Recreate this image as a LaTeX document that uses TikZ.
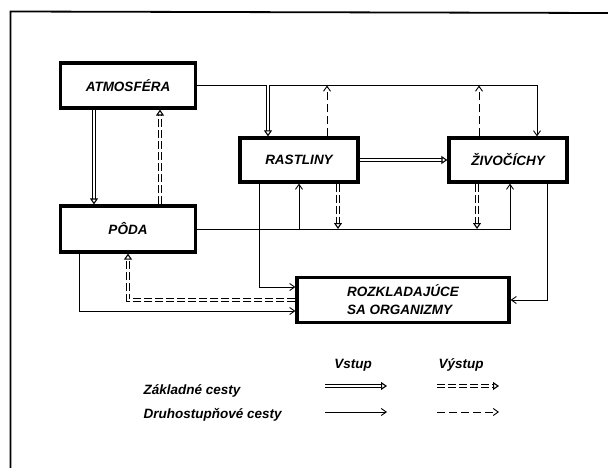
\documentclass[tikz,border=0pt]{standalone}
\usepackage{fontspec}
\setmainfont{Liberation Sans}
\usepackage{tikz}
\usetikzlibrary{arrows.meta, calc}

\begin{document}
\begin{tikzpicture}[x=1pt, y=-1pt,
    box/.style={draw, line width=3.2pt, inner sep=0pt, font=\fontsize{13.5}{18}\selectfont\bfseries\itshape},
    sec/.style={line width=0.9pt, -{Straight Barb[length=5pt, width=7pt]}},
    secout/.style={sec, dash pattern=on 8pt off 4pt},
    main/.style={double, double distance=2pt, line width=1.1pt, -{Triangle[open, length=6pt, width=8pt]}},
    mainout/.style={main, dash pattern=on 8pt off 3pt},
    lbl/.style={font=\fontsize{13.5}{18}\selectfont\bfseries\itshape}]
    \useasboundingbox (0,0) rectangle (608,468);
    \draw[line width=1.8pt] (10.5,468) -- (10.5,11.5) -- (608,13);

    % boxes
    \node[box, minimum width=135, minimum height=45] (atm) at (128, 85.5) {ATMOSFÉRA};
    \node[box, minimum width=135, minimum height=46] (poda) at (128, 229) {PÔDA};
    \node[box, minimum width=118, minimum height=44] (rast) at (299, 160) {RASTLINY};
    \node[box, minimum width=118, minimum height=44] (ziv) at (508, 160) {ŽIVOČÍCHY};
    \node[box, minimum width=212, minimum height=45, align=left] (rozk) at (403, 300) {ROZKLADAJÚCE\\SA ORGANIZMY};

    % upper branch
    \coordinate (adn) at ([xshift=-34pt]atm.south);
    \coordinate (pin) at ([xshift=-34pt]poda.north);
    \coordinate (pup) at ([xshift=32pt]poda.north);
    \coordinate (aup) at ([xshift=32pt]atm.south);
    \coordinate (rin) at ([xshift=-31pt]rast.north);
    \coordinate (rout) at ([xshift=28pt]rast.north);
    \coordinate (zout) at ([xshift=-29pt]ziv.north);
    \draw[main] (adn) -- (pin);
    \draw[mainout] (pup) -- (aup);
    \draw[sec] (atm.east) -| ([xshift=29pt]ziv.north);
    \draw[main] (rin |- atm.east) -- (rin);
    \draw[secout] (rout) -- (rout |- atm.east);
    \draw[secout] (zout) -- (zout |- atm.east);
    \draw[main] (rast.east) -- (ziv.west);

    % lower branch
    \coordinate (rdn) at ([xshift=39pt]rast.south);
    \coordinate (zdn) at ([xshift=-31pt]ziv.south);
    \draw[sec] (poda.east) -| ([xshift=2pt]ziv.south);
    \draw[sec] (rast.south |- poda.east) -- (rast.south);
    \draw[mainout] (rdn) -- (rdn |- poda.east);
    \draw[mainout] (zdn) -- (zdn |- poda.east);
    \draw[sec] ([xshift=-40pt]rast.south) |- ([yshift=13pt]rozk.west);
    \draw[sec] ([xshift=39pt]ziv.south) |- (rozk.east);
    \draw[sec] ([xshift=-49pt]poda.south) |- ([yshift=-11pt]rozk.west);
    \draw[mainout] (rozk.west) -| (poda.south);

    % legend
    \node[lbl] (vstup) at (353, 365) {Vstup};
    \node[lbl] (vystup) at (461, 365) {Výstup};
    \node[lbl, anchor=west] (zakl) at (140, 391) {Základné cesty};
    \node[lbl, anchor=west] (druh) at (140, 415) {Druhostupňové cesty};
    \foreach \sty/\xa/\yy [count=\i] in {main/325/386, mainout/437/386, sec/325/412, secout/437/412} {
        \coordinate (s\i) at (\xa, \yy);
        \coordinate (e\i) at (\xa+62, \yy);
        \draw[\sty] (s\i) -- (e\i);
    }
\end{tikzpicture}
\end{document}
